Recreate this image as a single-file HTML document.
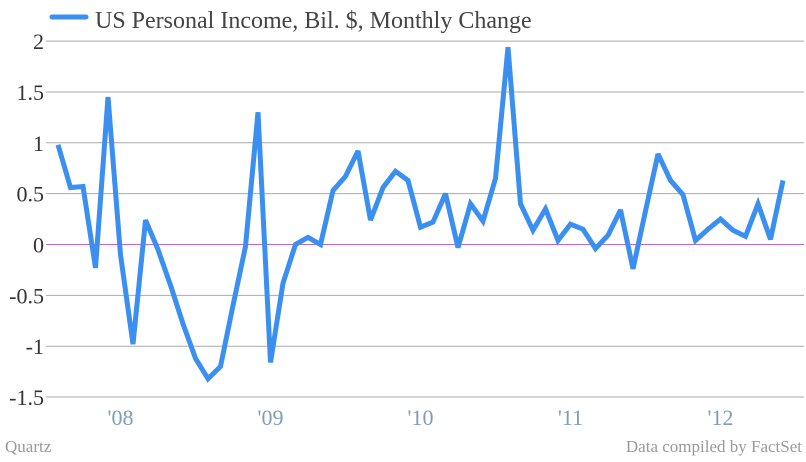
<!DOCTYPE html>
<html><head><meta charset="utf-8"><style>
html,body{margin:0;padding:0;background:#fff;}
svg{display:block;font-family:"Liberation Serif",serif;}
</style></head><body>
<svg id="chart" width="806" height="462" viewBox="0 0 806 462" xmlns="http://www.w3.org/2000/svg">
<g id="legend">
<line x1="52" y1="17" x2="86" y2="17" stroke="#3a8ff0" stroke-width="5" stroke-linecap="round"/>
<text x="95" y="28" font-size="24" fill="#444">US Personal Income, Bil. $, Monthly Change</text>
</g>
<g id="grid"></g><g id="yticks"></g><g id="xticks"></g><g id="series"></g>
<text x="5" y="452" font-size="17" fill="#999">Quartz</text>
<text x="802" y="452" font-size="17" fill="#999" text-anchor="end">Data compiled by FactSet</text>
</svg>
<script>
const values = [0.98,0.56,0.57,-0.23,1.45,-0.1,-0.98,0.24,-0.05,-0.4,-0.78,-1.12,-1.32,-1.2,-0.6,-0.02,1.3,-1.16,-0.38,0.0,0.07,0.0,0.53,0.67,0.92,0.24,0.56,0.72,0.63,0.17,0.22,0.5,-0.03,0.4,0.23,0.65,1.94,0.4,0.14,0.35,0.04,0.2,0.15,-0.04,0.09,0.34,-0.24,0.33,0.89,0.63,0.49,0.04,0.15,0.25,0.14,0.08,0.4,0.05,0.63];
const yTicks = [2,1.5,1,0.5,0,-0.5,-1,-1.5];
const yTickLabels = ["2","1.5","1","0.5","0","-0.5","-1","-1.5"];
const xTickIndex = [5,17,29,41,53];
const xTickLabels = ["'08","'09","'10","'11","'12"];
const NS="http://www.w3.org/2000/svg";
const X0=58, DX=12.5, Y0=244.5, PX=101.7;
function xs(i){return X0+i*DX;}
function ys(v){return Y0-v*PX;}
function mk(t,a,p){const e=document.createElementNS(NS,t);for(const k in a)e.setAttribute(k,a[k]);p.appendChild(e);return e;}
const grid=document.getElementById('grid'), yt=document.getElementById('yticks'), xt=document.getElementById('xticks'), ser=document.getElementById('series');
yTicks.forEach((v,i)=>{
 const l=mk('line',{x1:46,x2:804,y1:ys(v),y2:ys(v),stroke:v===0?'#c266d6':'#aaa','stroke-width':1},grid);
 
 
 const t=mk('text',{x:44,y:ys(v)+8,'font-size':22,fill:'#333','text-anchor':'end'},yt);
 t.textContent=yTickLabels[i];
 
 
});
xTickIndex.forEach((idx,i)=>{
 const t=mk('text',{x:xs(idx),y:425,'font-size':22,fill:'#7d9dbd','text-anchor':'middle'},xt);
 t.textContent=xTickLabels[i];
 
 
});
const p=mk('polyline',{points:values.map((v,i)=>xs(i)+','+ys(v)).join(' '),fill:'none',stroke:'#3a8ff0','stroke-width':5,'stroke-linejoin':'miter','stroke-miterlimit':3},ser);


</script>
</body></html>
